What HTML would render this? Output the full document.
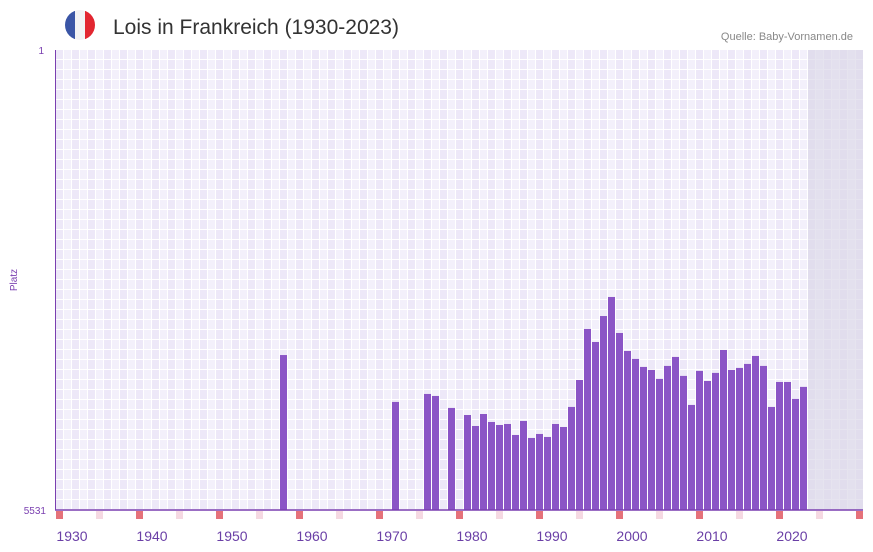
<!DOCTYPE html>
<html><head><meta charset="utf-8"><style>
body{margin:0;background:#fff;font-family:"Liberation Sans",sans-serif}
svg{display:block}
</style></head><body>
<svg id="chart" width="873" height="552" viewBox="0 0 873 552">
<defs>
<clipPath id="flagclip"><circle cx="80" cy="25" r="15"/></clipPath>
<pattern id="grid" x="56" y="50" width="16" height="10" patternUnits="userSpaceOnUse">
<rect width="16" height="10" fill="#fff"/>
<rect x="0" y="0" width="7" height="9" fill="#ede8f8"/>
<rect x="8" y="0" width="7" height="9" fill="#f3f0fb"/>
</pattern>
</defs>
<g clip-path="url(#flagclip)">
<rect x="65" y="10" width="10" height="30" fill="#3a55a6"/>
<rect x="75" y="10" width="10" height="30" fill="#f2f2f4"/>
<rect x="85" y="10" width="10" height="30" fill="#e22630"/>
</g>
<text x="113" y="34" font-size="21" fill="#333">Lois in Frankreich (1930-2023)</text>
<text x="853" y="40" font-size="11" fill="#888" text-anchor="end">Quelle: Baby-Vornamen.de</text>
<rect x="55" y="50" width="808" height="460" fill="url(#grid)"/>
<rect x="808" y="50" width="55" height="460" fill="#dcd8e8" opacity="0.7"/>
<g id="bars"></g>
<g id="markers"></g>
<line x1="55.5" y1="50" x2="55.5" y2="510" stroke="#7a3fb0" stroke-width="1"/>
<line x1="55" y1="510" x2="863" y2="510" stroke="#7a3fb0" stroke-width="1.5"/>
<text x="44" y="54" font-size="10" fill="#7a3fb0" text-anchor="end">1</text>
<text x="46" y="514" font-size="10" fill="#7a3fb0" text-anchor="end">5531</text>
<text x="17" y="280" font-size="10" fill="#7a3fb0" text-anchor="middle" transform="rotate(-90 17 280)">Platz</text>
<g id="xlabels"></g>
</svg>
<script>
const years=[1956,1970,1974,1975,1977,1979,1980,1981,1982,1983,1984,1985,1986,1987,1988,1989,1990,1991,1992,1993,1994,1995,1996,1997,1998,1999,2000,2001,2002,2003,2004,2005,2006,2007,2008,2009,2010,2011,2012,2013,2014,2015,2016,2017,2018,2019,2020,2021];
const ranks=[3668,4232,4136,4160,4304,4389,4521,4377,4473,4509,4497,4629,4461,4665,4617,4653,4497,4533,4292,3968,3355,3511,3199,2970,3403,3619,3715,3811,3847,3955,3799,3691,3919,4268,3859,3980,3883,3607,3847,3823,3775,3679,3799,4292,3992,3992,4196,4051];
const tickYears=[1930,1940,1950,1960,1970,1980,1990,2000,2010,2020];
const NS="http://www.w3.org/2000/svg";
const top0=50,bot=510,rMin=1,rMax=5531;
function xs(y){return 56+(y-1928)*8;}
function ys(r){return top0+(r-rMin)/(rMax-rMin)*(bot-top0);}
const bars=document.getElementById('bars');
years.forEach((yr,i)=>{
 const r=document.createElementNS(NS,'rect');
 const y=ys(ranks[i]);
 r.setAttribute('x',xs(yr));r.setAttribute('y',y);
 r.setAttribute('width',7);r.setAttribute('height',bot-y);
 r.setAttribute('fill','#8b55c6');
 
 
 bars.appendChild(r);
});
const mk=document.getElementById('markers');
for(let yr=1928;yr<=2028;yr+=5){
 const r=document.createElementNS(NS,'rect');
 r.setAttribute('x',xs(yr));r.setAttribute('y',511);
 r.setAttribute('width',7);r.setAttribute('height',8);
 r.setAttribute('fill',(yr-1928)%10===0?'#e5727a':'#f5d9e2');
 
 
 mk.appendChild(r);
}
const xl=document.getElementById('xlabels');
tickYears.forEach(yr=>{
 const t=document.createElementNS(NS,'text');
 t.setAttribute('x',xs(yr));t.setAttribute('y',541);
 t.setAttribute('font-size','14');t.setAttribute('fill','#6a3fa6');
 t.setAttribute('text-anchor','middle');
 
 
 t.textContent=yr;
 xl.appendChild(t);
});
</script>
</body></html>
